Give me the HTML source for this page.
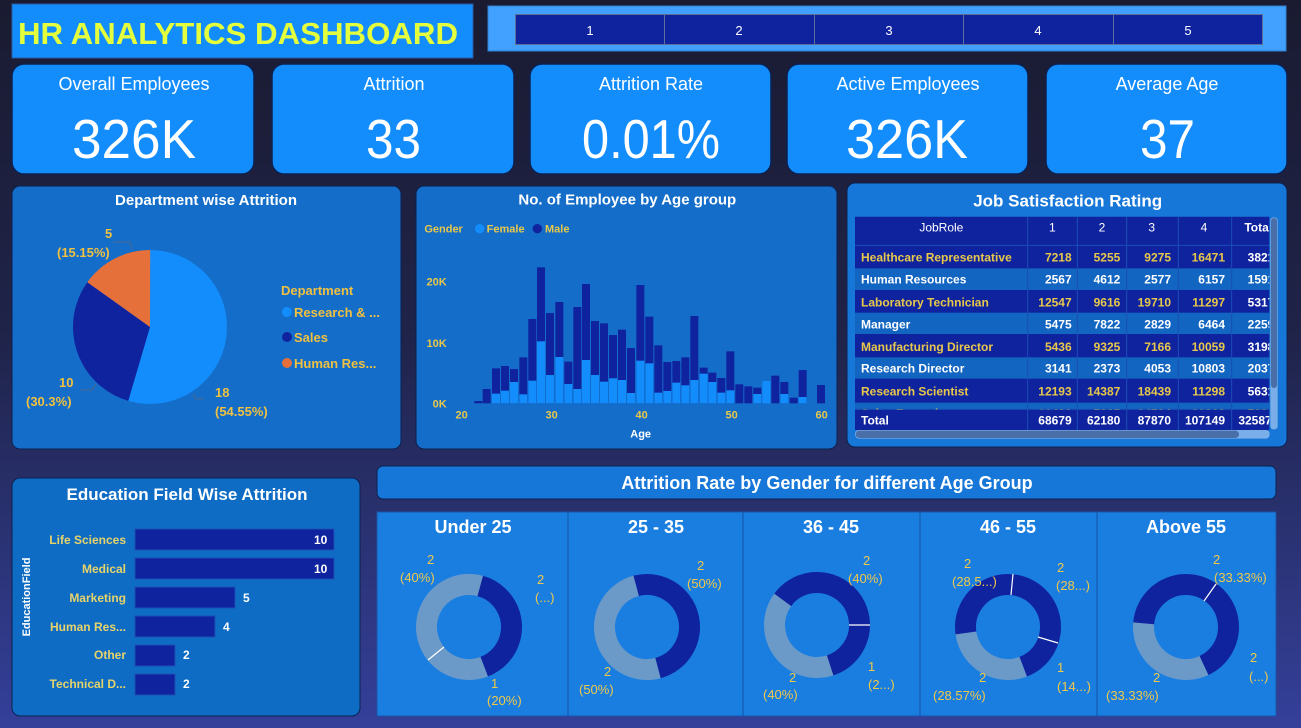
<!DOCTYPE html>
<html><head><meta charset="utf-8"><style>
html,body{margin:0;padding:0;width:1301px;height:728px;overflow:hidden;background:#1b1d35}
svg{display:block;font-family:"Liberation Sans",sans-serif}
</style></head><body>
<svg width="1301" height="728" viewBox="0 0 1301 728" xmlns="http://www.w3.org/2000/svg">
<defs>
<linearGradient id="bg" x1="0" y1="0" x2="0" y2="1">
<stop offset="0" stop-color="#1a1b31"/><stop offset="0.45" stop-color="#1f2348"/><stop offset="1" stop-color="#34409a"/>
</linearGradient>
<clipPath id="tclip"><rect x="30" y="110" width="1243" height="640"/></clipPath>
<clipPath id="sclip"><rect x="30" y="668" width="1243" height="20"/></clipPath>
</defs>
<rect width="1301" height="728" fill="url(#bg)"/>

<!-- Title -->
<rect x="12" y="4" width="461" height="54" fill="#138dfc" stroke="#2a5aa0" stroke-width="1"/>
<text x="18" y="44" font-size="31" font-weight="bold" fill="#e4ff3c" textLength="440" lengthAdjust="spacingAndGlyphs">HR ANALYTICS DASHBOARD</text>

<!-- Nav -->
<rect x="488" y="6" width="798" height="45" fill="#42a0ff" stroke="#2f7fd0"/>
<g fill="#10239e" stroke="#5b6f99" stroke-width="1">
<rect x="515.5" y="14.5" width="149" height="30"/><rect x="664.5" y="14.5" width="150" height="30"/><rect x="814.5" y="14.5" width="149" height="30"/><rect x="963.5" y="14.5" width="150" height="30"/><rect x="1113.5" y="14.5" width="149" height="30"/>
</g>
<g fill="#fff" font-size="13" text-anchor="middle">
<text x="590" y="35">1</text><text x="739" y="35">2</text><text x="889" y="35">3</text><text x="1038" y="35">4</text><text x="1188" y="35">5</text>
</g>

<!-- KPI cards -->
<g fill="#138dfc" stroke="#0d2150" stroke-width="1.5">
<rect x="12" y="64" width="242" height="110" rx="12"/>
<rect x="272" y="64" width="242" height="110" rx="12"/>
<rect x="530" y="64" width="241" height="110" rx="12"/>
<rect x="787" y="64" width="241" height="110" rx="12"/>
<rect x="1046" y="64" width="241" height="110" rx="12"/>
</g>
<g fill="#fff" font-size="18" text-anchor="middle">
<text x="134" y="90">Overall Employees</text>
<text x="394" y="90">Attrition</text>
<text x="651" y="90">Attrition Rate</text>
<text x="908" y="90">Active Employees</text>
<text x="1167" y="90">Average Age</text>
</g>
<g fill="#fff" font-size="55">
<text x="72" y="158" textLength="124" lengthAdjust="spacingAndGlyphs">326K</text>
<text x="366" y="158" textLength="55" lengthAdjust="spacingAndGlyphs">33</text>
<text x="582" y="158" textLength="138" lengthAdjust="spacingAndGlyphs">0.01%</text>
<text x="846" y="158" textLength="122" lengthAdjust="spacingAndGlyphs">326K</text>
<text x="1140" y="158" textLength="55" lengthAdjust="spacingAndGlyphs">37</text>
</g>

<!-- Department panel -->
<rect x="12" y="186" width="389" height="263" rx="8" fill="#146dc8" stroke="#0d2150"/>
<text x="206" y="205" font-size="15" font-weight="bold" fill="#fff" text-anchor="middle">Department wise Attrition</text>
<g fill="none" stroke-width="77">
<circle cx="150" cy="327" r="38.5" stroke="#138dfc" stroke-dasharray="131.96 300" transform="rotate(-90 150 327)"/>
<circle cx="150" cy="327" r="38.5" stroke="#10239e" stroke-dasharray="73.3 300" transform="rotate(106.4 150 327)"/>
<circle cx="150" cy="327" r="38.5" stroke="#e5703a" stroke-dasharray="36.65 300" transform="rotate(215.5 150 327)"/>
</g>
<g stroke="#4a6690" fill="none" stroke-width="1">
<polyline points="113,242 130,242 132,249"/><polyline points="80,390 92,390 96,384"/><polyline points="204,399 196,399 193,394"/>
</g>
<g fill="#f0c040" font-size="13" font-weight="bold">
<text x="105" y="238">5</text><text x="57" y="257">(15.15%)</text>
<text x="59" y="387">10</text><text x="26" y="406">(30.3%)</text>
<text x="215" y="397">18</text><text x="215" y="416">(54.55%)</text>
<text x="281" y="295">Department</text>
<text x="294" y="317">Research &amp; ...</text>
<text x="294" y="342">Sales</text>
<text x="294" y="368">Human Res...</text>
</g>
<circle cx="287" cy="312" r="5" fill="#138dfc"/><circle cx="287" cy="337" r="5" fill="#10239e"/><circle cx="287" cy="363" r="5" fill="#e5703a"/>

<!-- Age panel -->
<rect x="416" y="186" width="421" height="263" rx="8" fill="#146dc8" stroke="#0d2150"/>
<svg x="415" y="185" width="425" height="265" viewBox="0 0 1275 795">
<text x="637" y="58" font-size="45" font-weight="bold" fill="#fff" text-anchor="middle">No. of Employee by Age group</text>
<g font-size="33" font-weight="bold" fill="#e8c84a">
<text x="28" y="143">Gender</text><text x="215" y="143">Female</text><text x="390" y="143">Male</text>
</g>
<circle cx="194" cy="131" r="14" fill="#138dfc"/><circle cx="367" cy="131" r="14" fill="#10239e"/>
<g font-size="33" font-weight="bold" fill="#e8c84a">
<text x="95" y="302" text-anchor="end">20K</text><text x="95" y="486" text-anchor="end">10K</text><text x="95" y="667" text-anchor="end">0K</text>
<text x="140" y="700" text-anchor="middle">20</text><text x="410" y="700" text-anchor="middle">30</text><text x="680" y="700" text-anchor="middle">40</text><text x="950" y="700" text-anchor="middle">50</text><text x="1220" y="700" text-anchor="middle">60</text>
</g>
<text x="677" y="758" font-size="33" font-weight="bold" fill="#fff" text-anchor="middle">Age</text>
<g fill="#10239e">
<rect x="178" y="648" width="24" height="7"/><rect x="203" y="612" width="24" height="43"/><rect x="231" y="550" width="24" height="105"/><rect x="258" y="543" width="24" height="112"/><rect x="285" y="552" width="24" height="103"/><rect x="313" y="517" width="24" height="138"/><rect x="340" y="402" width="24" height="253"/><rect x="366" y="247" width="24" height="408"/><rect x="393" y="384" width="24" height="271"/><rect x="421" y="351" width="24" height="304"/><rect x="448" y="530" width="24" height="125"/><rect x="475" y="366" width="24" height="289"/><rect x="501" y="297" width="24" height="358"/><rect x="528" y="408" width="24" height="247"/><rect x="555" y="415" width="24" height="240"/><rect x="582" y="450" width="24" height="205"/><rect x="609" y="434" width="24" height="221"/><rect x="636" y="489" width="24" height="166"/><rect x="664" y="300" width="24" height="355"/><rect x="691" y="395" width="24" height="260"/><rect x="718" y="481" width="24" height="174"/><rect x="745" y="531" width="24" height="124"/><rect x="772" y="528" width="24" height="127"/><rect x="799" y="517" width="24" height="138"/><rect x="826" y="393" width="24" height="262"/><rect x="854" y="548" width="24" height="107"/><rect x="880" y="563" width="24" height="92"/><rect x="907" y="579" width="24" height="76"/><rect x="934" y="499" width="24" height="156"/><rect x="961" y="598" width="24" height="57"/><rect x="988" y="604" width="24" height="51"/><rect x="1015" y="608" width="24" height="47"/><rect x="1069" y="572" width="24" height="83"/><rect x="1096" y="591" width="24" height="64"/><rect x="1124" y="638" width="24" height="17"/><rect x="1151" y="555" width="24" height="100"/><rect x="1206" y="600" width="24" height="55"/>
</g>
<g fill="#138dfc">
<rect x="231" y="626" width="24" height="29"/><rect x="258" y="617" width="24" height="38"/><rect x="285" y="591" width="24" height="64"/><rect x="313" y="628" width="24" height="27"/><rect x="340" y="587" width="24" height="68"/><rect x="366" y="469" width="24" height="186"/><rect x="393" y="570" width="24" height="85"/><rect x="421" y="516" width="24" height="139"/><rect x="448" y="597" width="24" height="58"/><rect x="475" y="612" width="24" height="43"/><rect x="501" y="525" width="24" height="130"/><rect x="528" y="570" width="24" height="85"/><rect x="555" y="590" width="24" height="65"/><rect x="582" y="580" width="24" height="75"/><rect x="609" y="585" width="24" height="70"/><rect x="636" y="624" width="24" height="31"/><rect x="664" y="527" width="24" height="128"/><rect x="691" y="535" width="24" height="120"/><rect x="718" y="623" width="24" height="32"/><rect x="745" y="618" width="24" height="37"/><rect x="772" y="593" width="24" height="62"/><rect x="799" y="601" width="24" height="54"/><rect x="826" y="585" width="24" height="70"/><rect x="854" y="566" width="24" height="89"/><rect x="880" y="591" width="24" height="64"/><rect x="907" y="623" width="24" height="32"/><rect x="934" y="616" width="24" height="39"/><rect x="1015" y="627" width="24" height="28"/><rect x="1042" y="588" width="24" height="67"/><rect x="1096" y="627" width="24" height="28"/><rect x="1151" y="636" width="24" height="19"/>
</g>
</svg>

<!-- Job table panel -->
<rect x="847" y="183" width="440" height="264" rx="8" fill="#1677d8" stroke="#0d2150"/>
<svg x="845" y="180" width="445" height="270" viewBox="0 0 1335 810">
<text x="668" y="80" font-size="51" font-weight="bold" fill="#fff" text-anchor="middle">Job Satisfaction Rating</text>
<g clip-path="url(#tclip)">
<rect x="30" y="110" width="1250" height="640" fill="#10239e"/>
<g fill="#1265c0">
<rect x="30" y="265" width="1250" height="65"/><rect x="30" y="398" width="1250" height="64"/><rect x="30" y="532" width="1250" height="64"/><rect x="30" y="668" width="1250" height="20"/>
</g>
<g stroke="#1a4fb5" stroke-width="3">
<line x1="30" y1="196" x2="1280" y2="196"/><line x1="30" y1="688" x2="1280" y2="688"/>
<line x1="548" y1="110" x2="548" y2="750"/><line x1="697" y1="110" x2="697" y2="750"/><line x1="845" y1="110" x2="845" y2="750"/><line x1="1000" y1="110" x2="1000" y2="750"/><line x1="1160" y1="110" x2="1160" y2="750"/>
</g>
<g font-size="36" fill="#fff" text-anchor="middle">
<text x="289" y="155">JobRole</text><text x="622" y="155">1</text><text x="771" y="155">2</text><text x="920" y="155">3</text><text x="1077" y="155">4</text>
<text x="1198" y="155" text-anchor="start" font-weight="bold">Total</text>
</g>
<g font-size="36" font-weight="bold">
<g fill="#e8c84a"><text x="48" y="245">Healthcare Representative</text><text x="48" y="380">Laboratory Technician</text><text x="48" y="513">Manufacturing Director</text><text x="48" y="646">Research Scientist</text></g>
<g fill="#fff"><text x="48" y="310">Human Resources</text><text x="48" y="445">Manager</text><text x="48" y="578">Research Director</text><text x="48" y="733">Total</text></g>
<g text-anchor="end" fill="#e8c84a">
<text x="680" y="245">7218</text><text x="826" y="245">5255</text><text x="978" y="245">9275</text><text x="1140" y="245">16471</text>
<text x="680" y="380">12547</text><text x="826" y="380">9616</text><text x="978" y="380">19710</text><text x="1140" y="380">11297</text>
<text x="680" y="513">5436</text><text x="826" y="513">9325</text><text x="978" y="513">7166</text><text x="1140" y="513">10059</text>
<text x="680" y="646">12193</text><text x="826" y="646">14387</text><text x="978" y="646">18439</text><text x="1140" y="646">11298</text>
</g>
<g clip-path="url(#sclip)" fill="#e8c84a">
<text x="48" y="712">Sales Executive</text>
<g text-anchor="end"><text x="680" y="712">10483</text><text x="826" y="712">7835</text><text x="978" y="712">24784</text><text x="1140" y="712">26368</text></g>
<text x="1208" y="712">72980</text>
</g>
<g text-anchor="end" fill="#fff">
<text x="680" y="310">2567</text><text x="826" y="310">4612</text><text x="978" y="310">2577</text><text x="1140" y="310">6157</text>
<text x="680" y="445">5475</text><text x="826" y="445">7822</text><text x="978" y="445">2829</text><text x="1140" y="445">6464</text>
<text x="680" y="578">3141</text><text x="826" y="578">2373</text><text x="978" y="578">4053</text><text x="1140" y="578">10803</text>
<text x="680" y="733">68679</text><text x="826" y="733">62180</text><text x="978" y="733">87870</text><text x="1140" y="733">107149</text>
</g>
<g fill="#fff"><text x="1208" y="245">38219</text><text x="1208" y="310">15913</text><text x="1208" y="380">53170</text><text x="1208" y="445">22590</text><text x="1208" y="513">31986</text><text x="1208" y="578">20370</text><text x="1208" y="646">56317</text><text x="1180" y="733">325878</text></g>
</g>
</g>
<rect x="1276" y="112" width="22" height="636" rx="10" fill="#7aaee8"/>
<rect x="1278" y="114" width="18" height="510" rx="9" fill="#4a6fa8"/>
<rect x="30" y="750" width="1244" height="26" rx="12" fill="#7aaee8"/>
<rect x="32" y="752" width="1150" height="22" rx="11" fill="#4a6fa8"/>
</svg>

<!-- Education panel -->
<rect x="12" y="478" width="348" height="238" rx="8" fill="#0f6cc4" stroke="#0d2150"/>
<text x="187" y="500" font-size="17" font-weight="bold" fill="#fff" text-anchor="middle">Education Field Wise Attrition</text>
<text transform="translate(30 597) rotate(-90)" font-size="11" font-weight="bold" fill="#fff" text-anchor="middle">EducationField</text>
<g fill="#10239e" stroke="#1a4fb5">
<rect x="135" y="529" width="199" height="21"/><rect x="135" y="558" width="199" height="21"/><rect x="135" y="587" width="100" height="21"/><rect x="135" y="616" width="80" height="21"/><rect x="135" y="645" width="40" height="21"/><rect x="135" y="674" width="40" height="21"/>
</g>
<g font-size="12" font-weight="bold" fill="#e6d36a" text-anchor="end">
<text x="126" y="544">Life Sciences</text><text x="126" y="573">Medical</text><text x="126" y="602">Marketing</text><text x="126" y="631">Human Res...</text><text x="126" y="659">Other</text><text x="126" y="688">Technical D...</text>
</g>
<g font-size="12" font-weight="bold" fill="#fff">
<text x="314" y="544">10</text><text x="314" y="573">10</text><text x="243" y="602">5</text><text x="223" y="631">4</text><text x="183" y="659">2</text><text x="183" y="688">2</text>
</g>

<!-- Gender age title -->
<rect x="377" y="466" width="899" height="33" rx="6" fill="#1677d8" stroke="#0d2150"/>
<text x="827" y="489" font-size="18" font-weight="bold" fill="#fff" text-anchor="middle">Attrition Rate by Gender for different Age Group</text>

<!-- Donut panel -->
<rect x="377" y="512" width="899" height="204" fill="#1a7ee0" stroke="#1a55a8"/>
<g stroke="#1560b8" stroke-width="1.5"><line x1="568" y1="512" x2="568" y2="716"/><line x1="743" y1="512" x2="743" y2="716"/><line x1="920" y1="512" x2="920" y2="716"/><line x1="1097" y1="512" x2="1097" y2="716"/></g>
<g font-size="18" font-weight="bold" fill="#fff" text-anchor="middle">
<text x="473" y="533">Under 25</text><text x="656" y="533">25 - 35</text><text x="831" y="533">36 - 45</text><text x="1008" y="533">46 - 55</text><text x="1186" y="533">Above 55</text>
</g>
<g fill="none" stroke-width="21">
<circle cx="469" cy="627" r="42.5" stroke="#10239e" stroke-dasharray="106.8 300" transform="rotate(-75 469 627)"/>
<circle cx="469" cy="627" r="42.5" stroke="#6b9ac9" stroke-dasharray="160.2 300" transform="rotate(69 469 627)"/>
<circle cx="647" cy="627" r="42.5" stroke="#10239e" stroke-dasharray="133.5 300" transform="rotate(-105 647 627)"/>
<circle cx="647" cy="627" r="42.5" stroke="#6b9ac9" stroke-dasharray="133.5 300" transform="rotate(75 647 627)"/>
<circle cx="817" cy="625" r="42.5" stroke="#10239e" stroke-dasharray="160.2 300" transform="rotate(216 817 625)"/>
<circle cx="817" cy="625" r="42.5" stroke="#6b9ac9" stroke-dasharray="106.8 300" transform="rotate(72 817 625)"/>
<circle cx="1008" cy="627" r="42.5" stroke="#10239e" stroke-dasharray="114.2 300" transform="rotate(-85 1008 627)"/>
<circle cx="1008" cy="627" r="42.5" stroke="#6b9ac9" stroke-dasharray="76.4 300" transform="rotate(69 1008 627)"/>
<circle cx="1008" cy="627" r="42.5" stroke="#10239e" stroke-dasharray="76.4 300" transform="rotate(172 1008 627)"/>
<circle cx="1186" cy="627" r="42.5" stroke="#10239e" stroke-dasharray="89 300" transform="rotate(-55 1186 627)"/>
<circle cx="1186" cy="627" r="42.5" stroke="#6b9ac9" stroke-dasharray="89 300" transform="rotate(65 1186 627)"/>
<circle cx="1186" cy="627" r="42.5" stroke="#10239e" stroke-dasharray="89 300" transform="rotate(185 1186 627)"/>
</g>
<g stroke="#fff" stroke-width="1.2">
<line x1="444" y1="647" x2="428" y2="660"/>
<line x1="849" y1="625" x2="870" y2="625"/>
<line x1="1011" y1="595" x2="1013" y2="574"/><line x1="1038" y1="637" x2="1058" y2="643"/>
<line x1="1204" y1="601" x2="1216" y2="584"/>
</g>
<g fill="#f0c84a" font-size="13">
<text x="427" y="564">2</text><text x="400" y="582">(40%)</text>
<text x="537" y="584">2</text><text x="535" y="602">(...)</text>
<text x="491" y="688">1</text><text x="487" y="705">(20%)</text>
<text x="697" y="570">2</text><text x="687" y="588">(50%)</text>
<text x="604" y="676">2</text><text x="579" y="694">(50%)</text>
<text x="863" y="565">2</text><text x="848" y="583">(40%)</text>
<text x="789" y="682">2</text><text x="763" y="699">(40%)</text>
<text x="868" y="671">1</text><text x="868" y="689">(2...)</text>
<text x="964" y="568">2</text><text x="952" y="586">(28.5...)</text>
<text x="1057" y="572">2</text><text x="1056" y="590">(28...)</text>
<text x="979" y="682">2</text><text x="933" y="700">(28.57%)</text>
<text x="1057" y="672">1</text><text x="1057" y="691">(14...)</text>
<text x="1213" y="564">2</text><text x="1214" y="582">(33.33%)</text>
<text x="1250" y="662">2</text><text x="1249" y="681">(...)</text>
<text x="1153" y="682">2</text><text x="1106" y="700">(33.33%)</text>
</g>
</svg>
</body></html>
